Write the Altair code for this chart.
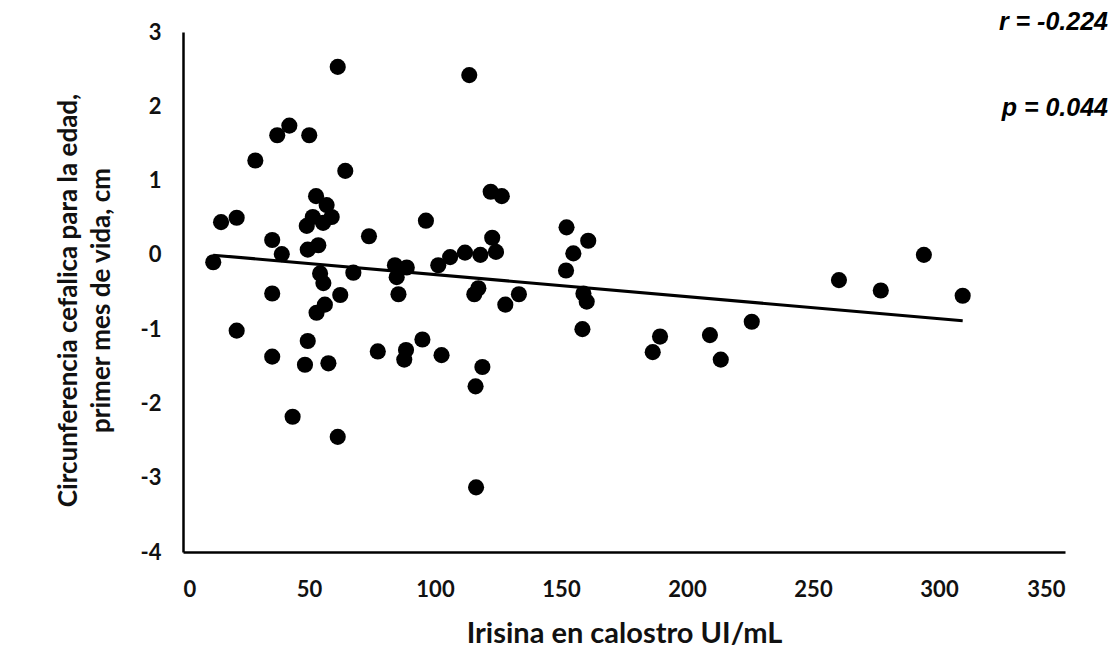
import altair as alt
import pandas as pd

# Irisina en calostro (UI/mL)
irisina = [
    61.4, 42.2, 37.4, 50.1, 28.7, 64.4, 52.8, 57.0, 15.1, 21.3,
    51.5, 59.0, 49.1, 55.6, 53.7, 49.5, 35.4, 39.2, 73.8, 12.0,
    67.6, 54.4, 55.7, 35.4, 62.4, 56.3, 53.0, 21.3, 49.5, 35.4,
    48.4, 57.7, 77.3, 43.5, 61.4,
    113.6, 122.1, 126.5, 96.4, 152.2, 160.8, 154.9, 152.0, 122.7, 111.9,
    118.0, 124.2, 106.0, 101.3, 84.1, 88.8, 84.8, 85.5, 117.2, 115.6,
    133.3, 158.9, 160.2, 127.9, 158.5, 95.0, 88.5, 87.8, 102.6, 118.8,
    116.1, 116.3,
    189.3, 186.4, 209.1, 213.4, 225.7, 260.3, 276.9, 294.0, 309.4,
]

# Circunferencia cefalica para la edad (cm)
circunferencia = [
    2.53, 1.74, 1.61, 1.61, 1.27, 1.13, 0.79, 0.67, 0.44, 0.50,
    0.51, 0.51, 0.39, 0.43, 0.13, 0.07, 0.20, 0.01, 0.25, -0.10,
    -0.24, -0.25, -0.38, -0.52, -0.54, -0.67, -0.78, -1.02, -1.16, -1.37,
    -1.48, -1.46, -1.30, -2.18, -2.45,
    2.42, 0.85, 0.79, 0.46, 0.37, 0.19, 0.02, -0.21, 0.23, 0.03,
    0.00, 0.04, -0.03, -0.14, -0.14, -0.17, -0.30, -0.53, -0.45, -0.53,
    -0.53, -0.52, -0.63, -0.67, -1.00, -1.14, -1.28, -1.41, -1.35, -1.51,
    -1.77, -3.13,
    -1.10, -1.31, -1.08, -1.41, -0.90, -0.34, -0.48, 0.00, -0.55,
]

x_ticks = [0, 50, 100, 150, 200, 250, 300, 350]
y_ticks = [-4, -3, -2, -1, 0, 1, 2, 3]
stats_text = ["r = -0.224", "p = 0.044"]

df = pd.DataFrame({"irisina": irisina, "circ": circunferencia})

AXIS_FONT = "Lato"

x_enc = alt.X(
    "irisina:Q",
    scale=alt.Scale(domain=[0, 350], nice=False, zero=False),
    axis=alt.Axis(
        values=x_ticks,
        labelExpr="datum.value + ''",
        title="Irisina en calostro UI/mL",
        titleFontSize=29,
        grid=False,
        ticks=False,
        labelPadding=27,
        titlePadding=19,
    ),
)
y_enc = alt.Y(
    "circ:Q",
    scale=alt.Scale(domain=[-4, 3], nice=False, zero=False),
    axis=alt.Axis(
        values=y_ticks,
        labelExpr="datum.value + ''",
        title=["Circunferencia cefalica para la edad,", "primer mes de vida, cm"],
        titleFontSize=26,
        titleY=268,
        grid=False,
        ticks=False,
        labelPadding=22,
        titlePadding=26,
        titleLineHeight=33,
    ),
)

points = alt.Chart(df).mark_circle(size=260, color="black", opacity=1).encode(
    x=x_enc, y=y_enc
)

trend = (
    alt.Chart(df)
    .transform_regression("irisina", "circ")
    .mark_line(color="black", strokeWidth=3)
    .encode(x="irisina:Q", y="circ:Q")
)

stats = alt.Chart(pd.DataFrame({"t": stats_text, "ypx": [-10, 76]})).mark_text(
    align="right",
    baseline="middle",
    font="Liberation Sans",
    fontSize=25,
    fontWeight="bold",
    fontStyle="italic",
    color="black",
).encode(text="t:N", x=alt.value(925), y=alt.Y("ypx:Q", scale=None))

chart = (
    alt.layer(points, trend, stats)
    .properties(
        width=882,
        height=520,
        autosize=alt.AutoSizeParams(type="none"),
        padding={"left": 183, "top": 32, "right": 52, "bottom": 103},
    )
    .configure_view(stroke=None)
    .configure_axis(
        domainColor="black",
        domainWidth=2.5,
        labelFont=AXIS_FONT,
        labelFontSize=22,
        labelFontWeight="bold",
        labelColor="#111",
        titleFont=AXIS_FONT,
        titleFontWeight="bold",
        titleColor="#111",
    )
)

chart.save("out.html", embed_options={"renderer": "svg", "actions": False})
